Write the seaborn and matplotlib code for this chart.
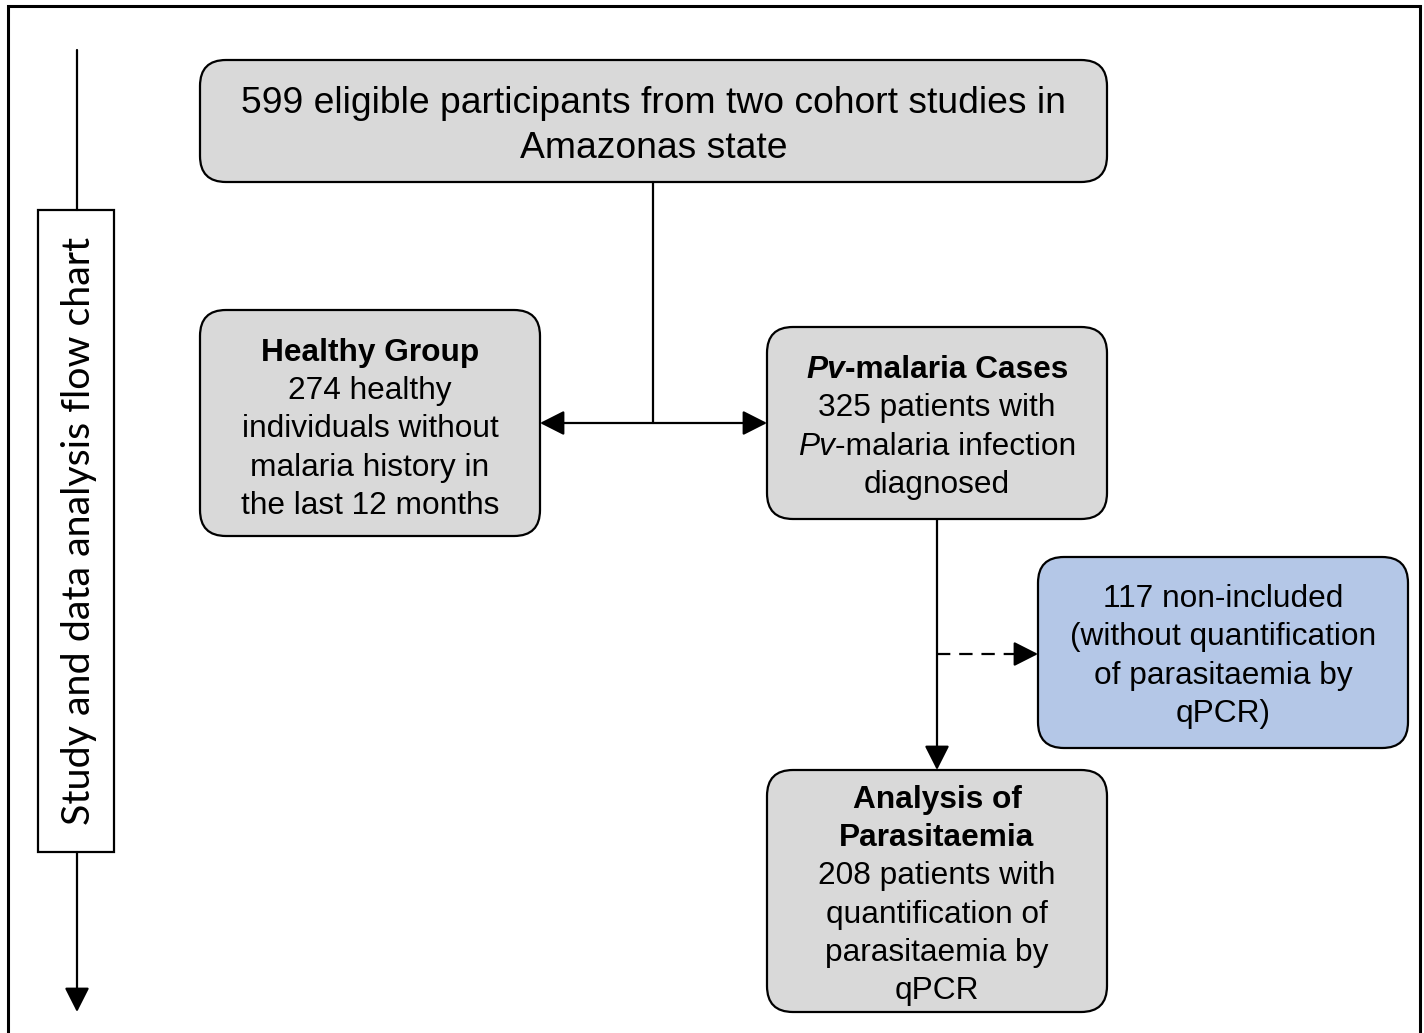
import matplotlib
matplotlib.use("Agg")
import matplotlib.pyplot as plt
import seaborn as sns
from matplotlib.patches import FancyBboxPatch, FancyArrowPatch, Rectangle

sns.set_theme(style="white")
plt.rcParams["font.family"] = ["Liberation Sans", "DejaVu Sans"]
plt.rcParams["text.color"] = "black"

# numbers of the flow chart
n_eligible = 599
n_healthy = 274
n_pv = 325
n_excluded = 117
n_analysed = 208

side_label = "Study and data analysis flow chart"

# each line is a list of (text, weight, style)
top_lines = [
    [(f"{n_eligible} eligible participants from two cohort studies in", "normal", "normal")],
    [("Amazonas state", "normal", "normal")],
]
healthy_lines = [
    [("Healthy Group", "bold", "normal")],
    [(f"{n_healthy} healthy", "normal", "normal")],
    [("individuals without", "normal", "normal")],
    [("malaria history in", "normal", "normal")],
    [("the last 12 months", "normal", "normal")],
]
pv_lines = [
    [("Pv", "bold", "italic"), ("-malaria Cases", "bold", "normal")],
    [(f"{n_pv} patients with", "normal", "normal")],
    [("Pv", "normal", "italic"), ("-malaria infection", "normal", "normal")],
    [("diagnosed", "normal", "normal")],
]
excluded_lines = [
    [(f"{n_excluded} non-included", "normal", "normal")],
    [("(without quantification", "normal", "normal")],
    [("of parasitaemia by", "normal", "normal")],
    [("qPCR)", "normal", "normal")],
]
analysed_lines = [
    [("Analysis of", "bold", "normal")],
    [("Parasitaemia", "bold", "normal")],
    [(f"{n_analysed} patients with", "normal", "normal")],
    [("quantification of", "normal", "normal")],
    [("parasitaemia by", "normal", "normal")],
    [("qPCR", "normal", "normal")],
]

GREY = "#d9d9d9"
BLUE = "#b4c7e7"

W, H = 1424, 1033
fig = plt.figure(figsize=(W / 100, H / 100), dpi=100)
ax = fig.add_axes([0, 0, 1, 1])
ax.set_xlim(0, W)
ax.set_ylim(H, 0)
ax.axis("off")


def box(x0, y0, x1, y1, color):
    p = FancyBboxPatch((x0, y0), x1 - x0, y1 - y0,
                       boxstyle="round,pad=0,rounding_size=26",
                       fc=color, ec="black", lw=1.6, zorder=2)
    ax.add_patch(p)


def write_lines(cx, cy, lines, size, spacing):
    em = size * 100 / 72
    fig.canvas.draw()
    r = fig.canvas.get_renderer()
    n = len(lines)
    for i, parts in enumerate(lines):
        yc = cy + (i - (n - 1) / 2) * spacing
        base = yc + 0.36 * em
        objs = []
        for s, wgt, sty in parts:
            t = ax.text(0, base, s, fontsize=size, fontweight=wgt, fontstyle=sty,
                        color="black", ha="left", va="baseline", zorder=3)
            objs.append(t)
        widths = [t.get_window_extent(renderer=r).width for t in objs]
        x = cx - sum(widths) / 2
        for t, w in zip(objs, widths):
            t.set_x(x)
            x += w


def arrow(p0, p1, style="-|>", ls="-"):
    a = FancyArrowPatch(p0, p1, arrowstyle=style + ",head_length=0.75,head_width=0.38",
                        mutation_scale=20, lw=1.6, color="black", shrinkA=0, shrinkB=0,
                        linestyle=ls, zorder=1)
    ax.add_patch(a)


# outer frame (open at the bottom)
ax.plot([8, 8, 1420, 1420], [H, 6, 6, H], color="black", lw=2.2, solid_joinstyle="miter")

# side time axis
ax.plot([77, 77], [50, 210], color="black", lw=1.6)
ax.add_patch(Rectangle((38, 210), 76, 642, fc="white", ec="black", lw=1.6))
arrow((77, 852), (77, 1012))
ax.text(79, 531, side_label, rotation=90, ha="center", va="center", color="black",
        fontsize=28.4, family=["Lato", "DejaVu Sans"])

# boxes
box(200, 60, 1107, 182, GREY)
box(200, 310, 540, 536, GREY)
box(767, 327, 1107, 519, GREY)
box(1038, 557, 1408, 748, BLUE)
box(767, 770, 1107, 1012, GREY)

write_lines(653.5, 122, top_lines, 26.8, 45)
write_lines(370, 426, healthy_lines, 22.8, 38.3)
write_lines(937, 424, pv_lines, 22.8, 38.3)
write_lines(1223, 653, excluded_lines, 22.8, 38.3)
write_lines(937, 892, analysed_lines, 22.8, 38.3)

# connectors
ax.plot([653, 653], [182, 423], color="black", lw=1.6)
arrow((540, 423), (767, 423), style="<|-|>")
arrow((937, 519), (937, 770))
ax.plot([937, 1022], [654, 654], color="black", lw=1.6, dashes=(6, 4))
arrow((1020, 654), (1038, 654))

fig.savefig("out.png", dpi=100)
